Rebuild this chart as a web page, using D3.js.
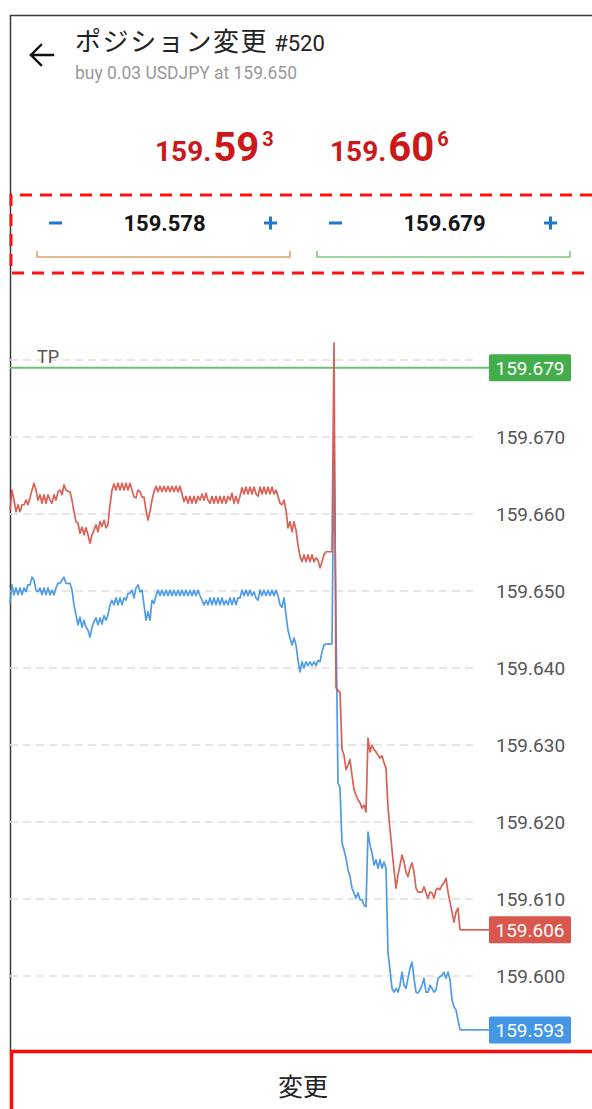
<!DOCTYPE html>
<html>
<head>
<meta charset="utf-8">
<script src="https://d3js.org/d3.v7.min.js"></script>
<style>
  body { margin: 0; background: #fff; }
  svg { display: block; }
</style>
</head>
<body>
<svg id="chart" width="592" height="1109"></svg>
<script>

// header texts
var titleJa = "ポジション変更";
var titleNo = "#520";
var subtitle = "buy 0.03 USDJPY at 159.650";
var bidQuote = ["159.", "59", "3"];
var askQuote = ["159.", "60", "6"];
var buttonLabel = "変更";

// stop loss / take profit
var slValue = 159.578;
var tpValue = 159.679;

// y grid + labels
var gridPrices = [159.600, 159.610, 159.620, 159.630, 159.640, 159.650, 159.660, 159.670, 159.680];
var tickPrices = [159.600, 159.610, 159.620, 159.630, 159.640, 159.650, 159.660, 159.670];

// ask (red) ticks
var askPrices = [
  159.6605,159.6631,159.6618,159.6603,159.6612,159.6603,159.6612,159.6612,159.6618,159.6612,
  159.6621,159.6631,159.6640,159.6631,159.6618,159.6625,159.6614,159.6625,159.6614,159.6625,
  159.6618,159.6614,159.6625,159.6618,159.6629,159.6631,159.6625,159.6638,159.6631,159.6629,
  159.6629,159.6618,159.6603,159.6590,159.6588,159.6575,159.6583,159.6573,159.6582,159.6573,
  159.6562,159.6573,159.6579,159.6586,159.6577,159.6590,159.6584,159.6592,159.6582,159.6586,
  159.6612,159.6631,159.6639,159.6631,159.6640,159.6631,159.6640,159.6631,159.6640,159.6631,
  159.6640,159.6631,159.6622,159.6621,159.6631,159.6629,159.6622,159.6622,159.6605,159.6592,
  159.6603,159.6618,159.6629,159.6636,159.6629,159.6636,159.6629,159.6636,159.6629,159.6636,
  159.6629,159.6636,159.6629,159.6636,159.6629,159.6636,159.6626,159.6616,159.6623,159.6614,
  159.6623,159.6614,159.6623,159.6614,159.6623,159.6618,159.6626,159.6618,159.6627,159.6618,
  159.6614,159.6623,159.6614,159.6623,159.6614,159.6623,159.6614,159.6623,159.6614,159.6623,
  159.6618,159.6627,159.6614,159.6623,159.6614,159.6623,159.6634,159.6626,159.6635,159.6626,
  159.6635,159.6626,159.6635,159.6626,159.6623,159.6635,159.6626,159.6635,159.6626,159.6635,
  159.6626,159.6635,159.6626,159.6631,159.6623,159.6614,159.6612,159.6618,159.6605,159.6582,
  159.6590,159.6577,159.6590,159.6579,159.6560,159.6545,159.6538,159.6547,159.6538,159.6547,
  159.6538,159.6547,159.6538,159.6543,159.6540,159.6530,159.6538,159.6547,159.6551,159.6551,
  159.6551,159.6551,159.6822,159.6374,159.6371,159.6368,159.6294,159.6287,159.6268,159.6274,
  159.6281,159.6261,159.6242,159.6235,159.6229,159.6225,159.6218,159.6222,159.6213,159.6309,
  159.6291,159.6300,159.6294,159.6291,159.6287,159.6283,159.6286,159.6277,159.6270,159.6219,
  159.6190,159.6164,159.6138,159.6114,159.6131,159.6144,159.6157,159.6148,159.6135,159.6129,
  159.6140,159.6147,159.6135,159.6114,159.6109,159.6109,159.6109,159.6116,159.6108,159.6101,
  159.6109,159.6108,159.6101,159.6112,159.6114,159.6112,159.6118,159.6121,159.6127,159.6109,
  159.6096,159.6083,159.6070,159.6083,159.6088,159.6060
];

// bid (blue) ticks
var bidPrices = [
  159.6484,159.6508,159.6495,159.6504,159.6495,159.6504,159.6495,159.6504,159.6499,159.6508,
  159.6508,159.6518,159.6514,159.6501,159.6499,159.6504,159.6495,159.6504,159.6495,159.6504,
  159.6495,159.6501,159.6495,159.6504,159.6510,159.6510,159.6514,159.6518,159.6510,159.6510,
  159.6510,159.6501,159.6482,159.6469,159.6456,159.6466,159.6453,159.6462,159.6453,159.6449,
  159.6440,159.6453,159.6460,159.6465,159.6456,159.6465,159.6457,159.6468,159.6462,159.6469,
  159.6482,159.6488,159.6482,159.6491,159.6482,159.6491,159.6482,159.6491,159.6488,159.6497,
  159.6497,159.6501,159.6491,159.6504,159.6508,159.6499,159.6501,159.6482,159.6462,159.6473,
  159.6462,159.6488,159.6484,159.6494,159.6501,159.6494,159.6501,159.6494,159.6501,159.6494,
  159.6501,159.6494,159.6501,159.6494,159.6501,159.6494,159.6501,159.6494,159.6501,159.6494,
  159.6501,159.6494,159.6501,159.6494,159.6501,159.6494,159.6488,159.6482,159.6488,159.6482,
  159.6491,159.6482,159.6491,159.6482,159.6491,159.6482,159.6491,159.6482,159.6488,159.6482,
  159.6491,159.6482,159.6491,159.6482,159.6491,159.6491,159.6501,159.6494,159.6501,159.6494,
  159.6501,159.6494,159.6499,159.6491,159.6488,159.6501,159.6494,159.6501,159.6494,159.6501,
  159.6494,159.6501,159.6494,159.6501,159.6494,159.6482,159.6479,159.6491,159.6469,159.6449,
  159.6439,159.6430,159.6439,159.6430,159.6410,159.6395,159.6408,159.6400,159.6408,159.6403,
  159.6408,159.6403,159.6408,159.6403,159.6410,159.6408,159.6421,159.6430,159.6431,159.6431,
  159.6431,159.6432,159.6700,159.6462,159.6251,159.6244,159.6173,159.6164,159.6153,159.6138,
  159.6129,159.6114,159.6108,159.6101,159.6108,159.6099,159.6099,159.6092,159.6090,159.6187,
  159.6170,159.6160,159.6144,159.6151,159.6140,159.6151,159.6140,159.6148,159.6140,159.6030,
  159.6008,159.5984,159.5979,159.5984,159.5979,159.5988,159.6005,159.5988,159.5984,159.5997,
  159.6010,159.6018,159.5997,159.5979,159.5978,159.5982,159.5988,159.5997,159.5979,159.5979,
  159.5988,159.5984,159.5979,159.5982,159.5997,159.5999,159.6001,159.6005,159.5997,159.6005,
  159.5995,159.5969,159.5960,159.5956,159.5943,159.5930
];

var red = "#d9574c", blue = "#4597e6", green = "#43ad4b";
var quoteRed = "#cc1818";
var latin = "Roboto, 'Noto Sans CJK JP', sans-serif";

var svg = d3.select("#chart");

// frame lines of the screenshot
svg.append("path").attr("d", "M592,15.5H10.5V1051")
    .attr("fill", "none").attr("stroke", "#3a3a3a").attr("stroke-width", 1.5);

// back arrow
svg.append("path").attr("d", "M53,55H31M41,45L31,55L41,65")
    .attr("fill", "none").attr("stroke", "#111").attr("stroke-width", 2.4)
    .attr("stroke-linecap", "square");

var tt = svg.append("text").attr("x", 75).attr("y", 51)
    .attr("font-family", latin).attr("fill", "#222");
tt.append("tspan").attr("font-size", 26).attr("letter-spacing", 1.6).text(titleJa);
tt.append("tspan").attr("font-size", 22).attr("dx", 6).text(titleNo);

svg.append("text").attr("x", 75).attr("y", 79)
    .attr("font-family", latin).attr("font-size", 18).attr("fill", "#999")
    .attr("textLength", 222).attr("lengthAdjust", "spacingAndGlyphs")
    .text(subtitle);

// big quotes
function quote(x, parts) {
    var t = svg.append("text").attr("x", x).attr("y", 161)
        .attr("font-family", latin).attr("font-weight", "bold").attr("fill", quoteRed);
    t.append("tspan").attr("font-size", 28).text(parts[0]);
    t.append("tspan").attr("font-size", 40).attr("dx", 2).text(parts[1]);
    t.append("tspan").attr("font-size", 20).attr("dx", 3).attr("dy", -15).text(parts[2]);
}
quote(155, bidQuote);
quote(330, askQuote);

// red dashed highlight box
svg.append("path").attr("d", "M592,195H11V273H592")
    .attr("fill", "none").attr("stroke", "#ff1010").attr("stroke-width", 3)
    .attr("stroke-dasharray", "12,8");

// SL / TP steppers
function stepper(x0, x1, value, col) {
    var cx = (x0 + x1) / 2;
    svg.append("path")
        .attr("d", "M" + (x0 + 12) + ",223H" + (x0 + 25))
        .attr("stroke", "#1e78d2").attr("stroke-width", 3);
    svg.append("path")
        .attr("d", "M" + (x1 - 26) + ",223H" + (x1 - 13) + "M" + (x1 - 19.5) + ",216.5V229.5")
        .attr("stroke", "#1e78d2").attr("stroke-width", 3);
    svg.append("text").attr("x", cx + 1).attr("y", 231)
        .attr("text-anchor", "middle").attr("font-family", latin)
        .attr("font-weight", "bold").attr("font-size", 22).attr("fill", "#151515")
        .text(d3.format(".3f")(value));
    svg.append("path").attr("d", "M" + x0 + ",251V257H" + x1 + "V251")
        .attr("fill", "none").attr("stroke", col).attr("stroke-width", 1.6);
}
stepper(37, 290, slValue, "#e0a474");
stepper(317, 570, tpValue, "#80c680");

// chart
var n = askPrices.length;
var x = d3.scaleLinear().domain([0, n - 1]).range([10, 460]);
var y = d3.scaleLinear().domain([159.600, 159.670]).range([976, 437]);

svg.append("g").selectAll("line")
    .data(gridPrices).enter().append("line")
    .attr("x1", 10).attr("x2", 477)
    .attr("y1", function(d) { return y(d); })
    .attr("y2", function(d) { return y(d); })
    .attr("stroke", "#dedede").attr("stroke-width", 1.5)
    .attr("stroke-dasharray", "8,5");

var axis = svg.append("g").attr("transform", "translate(496,0)")
    .call(d3.axisRight(y).tickValues(tickPrices).tickFormat(d3.format(".3f"))
        .tickSize(0).tickPadding(0));
axis.select(".domain").remove();
axis.attr("font-family", latin).attr("font-size", 19).attr("color", "#555");

// TP line
svg.append("line").attr("x1", 10).attr("x2", 490)
    .attr("y1", y(tpValue)).attr("y2", y(tpValue))
    .attr("stroke", "#6cc070").attr("stroke-width", 2);
svg.append("text").attr("x", 37).attr("y", y(tpValue) - 5)
    .attr("font-family", latin).attr("font-size", 18).attr("fill", "#555").text("TP");

var line = d3.line()
    .x(function(d, i) { return x(i); })
    .y(function(d) { return y(d); });

[[bidPrices, blue], [askPrices, red]].forEach(function(s) {
    var last = s[0][n - 1];
    svg.append("path").datum(s[0])
        .attr("d", line).attr("fill", "none")
        .attr("stroke", s[1]).attr("stroke-width", 1.7).attr("stroke-linejoin", "round")
        .attr("opacity", 0.95);
    svg.append("line").attr("x1", x(n - 1)).attr("x2", 490)
        .attr("y1", y(last)).attr("y2", y(last))
        .attr("stroke", s[1]).attr("stroke-width", 1.6);
});

// price tags on the right
function tag(value, col) {
    svg.append("rect").attr("x", 489).attr("y", y(value) - 13.5)
        .attr("width", 82).attr("height", 27).attr("rx", 1.5).attr("fill", col);
    svg.append("text").attr("x", 530).attr("y", y(value) + 7)
        .attr("text-anchor", "middle").attr("font-family", latin)
        .attr("font-size", 19).attr("fill", "#fff")
        .text(d3.format(".3f")(value));
}
tag(tpValue, green);
tag(askPrices[n - 1], red);
tag(bidPrices[n - 1], blue);

// bottom button
svg.append("path").attr("d", "M592,1051.5H11.5V1109")
    .attr("fill", "none").attr("stroke", "#ff0a0a").attr("stroke-width", 3.5);
svg.append("text").attr("x", 303).attr("y", 1096)
    .attr("text-anchor", "middle").attr("font-family", "'Noto Sans CJK JP', sans-serif")
    .attr("font-size", 25).attr("fill", "#222").text(buttonLabel);

</script>
</body>
</html>
